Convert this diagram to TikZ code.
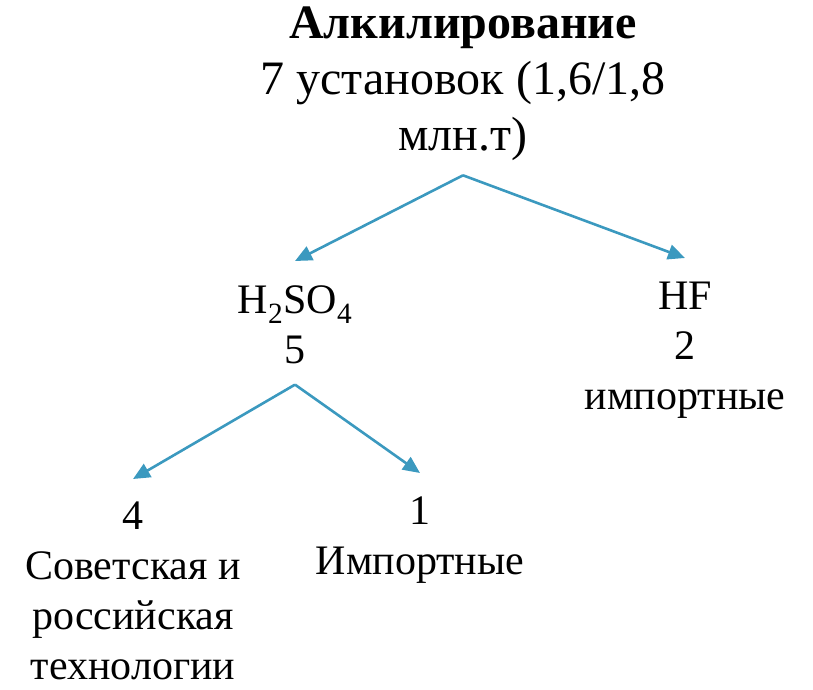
\documentclass[tikz,border=0pt]{standalone}
\usepackage{fontspec}
\setmainfont{Liberation Serif}
\usetikzlibrary{arrows.meta}
\definecolor{arrblue}{RGB}{59,153,191}

\begin{document}
\begin{tikzpicture}[x=1pt, y=-1pt,
	lbl/.style={align=center, inner sep=0pt, anchor=north, font=\fontsize{42}{50}\selectfont},
	arr/.style={draw=arrblue, line width=2.6pt, -{Triangle[length=17pt, width=15pt]}}]
	\useasboundingbox (0,0) rectangle (813,689);
% tree levels
	\node[lbl, font=\fontsize{48}{56}\selectfont] (title) at (463,7)
		{\textbf{Алкилирование}\\7 установок (1,6/1,8\\млн.т)};
	\node[lbl] (h2so4) at (295,285) {H\textsubscript{2}SO\textsubscript{4}\\5};
	\node[lbl] (hf) at (685,282) {HF\\2\\импортные};
	\node[lbl] (four) at (133,502) {4\\Советская и\\российская\\технологии};
	\node[lbl] (one) at (420,497) {1\\Импортные};
% arrows
	\draw[arr] ([yshift=-14pt]title.south) -- ([yshift=24pt]h2so4.north);
	\draw[arr] ([yshift=-14pt]title.south) -- ([yshift=24pt]hf.north);
	\draw[arr] ([yshift=-21pt]h2so4.south) -- ([yshift=23pt]four.north);
	\draw[arr] ([yshift=-21pt]h2so4.south) -- ([yshift=24pt]one.north);
\end{tikzpicture}
\end{document}
